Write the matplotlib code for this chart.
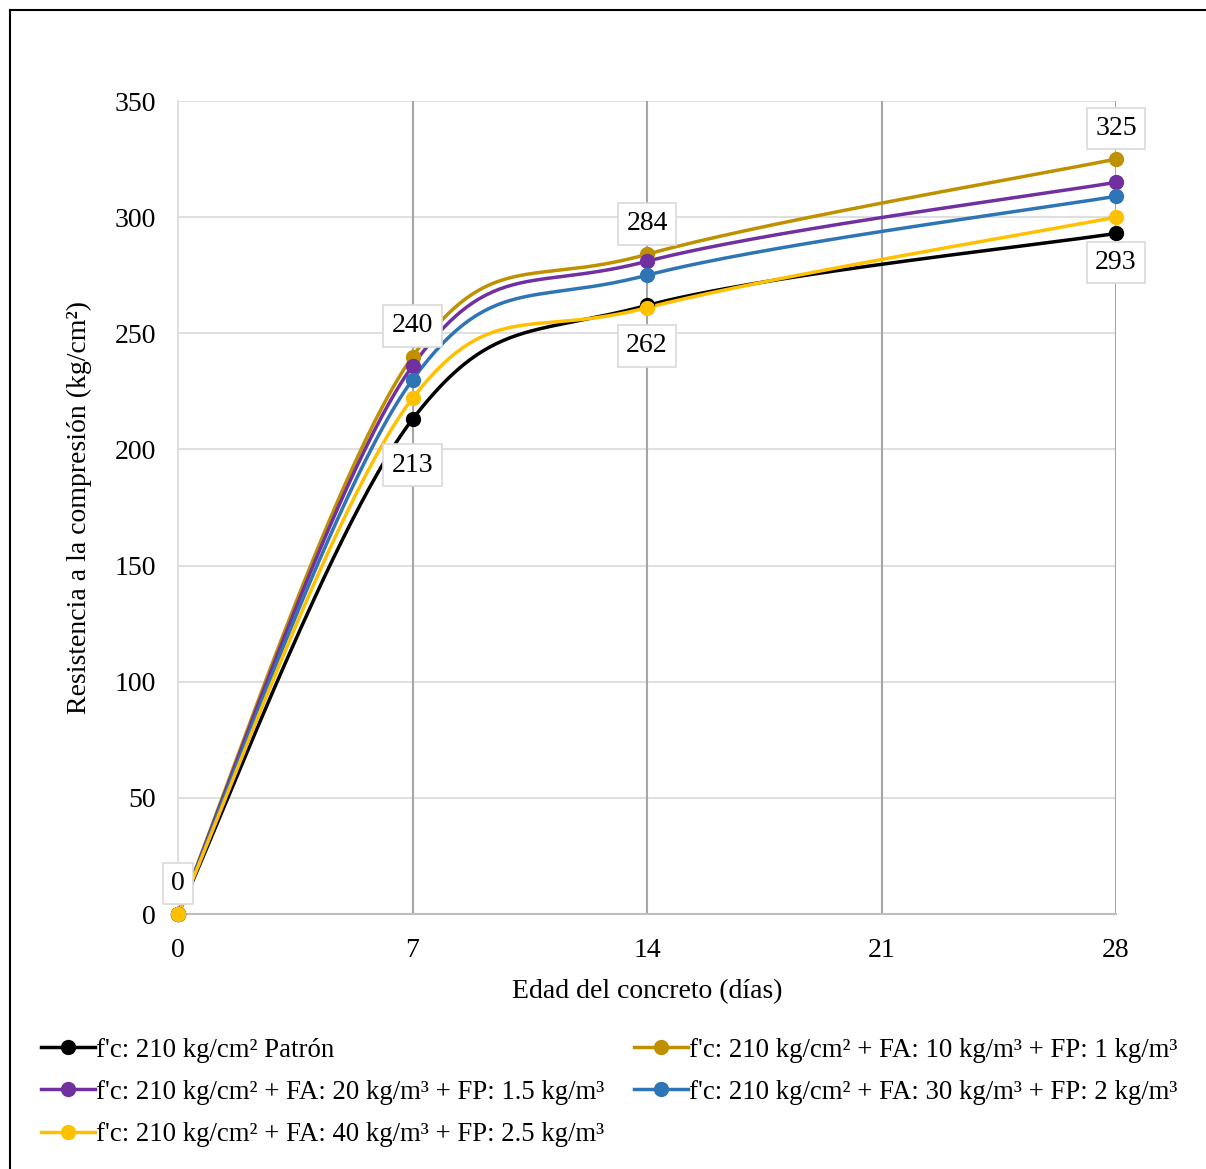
import numpy as np
import matplotlib
matplotlib.use("Agg")
from matplotlib import pyplot as plt
from matplotlib.lines import Line2D

plt.rcParams['font.family'] = ['Liberation Serif', 'DejaVu Serif']

# Data
days = [0, 7, 14, 28]
patron = [0, 213, 262, 293]
fa10 = [0, 240, 284, 325]
fa20 = [0, 236, 281, 315]
fa30 = [0, 230, 275, 309]
fa40 = [0, 222, 261, 300]

names = ["f'c: 210 kg/cm² Patrón",
         "f'c: 210 kg/cm² + FA: 10 kg/m³ + FP: 1 kg/m³",
         "f'c: 210 kg/cm² + FA: 20 kg/m³ + FP: 1.5 kg/m³",
         "f'c: 210 kg/cm² + FA: 30 kg/m³ + FP: 2 kg/m³",
         "f'c: 210 kg/cm² + FA: 40 kg/m³ + FP: 2.5 kg/m³"]
series = [patron, fa10, fa20, fa30, fa40]
colors = ['#000000', '#BF9000', '#7030A0', '#2E75B6', '#FFC000']

xticks = [0, 7, 14, 21, 28]
yticks = [0, 50, 100, 150, 200, 250, 300, 350]


# Excel-like smoothed line (bezier through the points)
def smooth(x, y, n=60):
    x = np.asarray(x, float)
    y = np.asarray(y, float)
    px = np.concatenate([[x[0]], x, [x[-1]]])
    py = np.concatenate([[y[0]], y, [y[-1]]])
    outx, outy = [], []
    t = np.linspace(0, 1, n)
    for i in range(1, len(px) - 2):
        p0 = np.array([px[i], py[i]])
        p3 = np.array([px[i + 1], py[i + 1]])
        c1 = p0 + (np.array([px[i + 1], py[i + 1]]) - np.array([px[i - 1], py[i - 1]])) / 6
        c2 = p3 - (np.array([px[i + 2], py[i + 2]]) - np.array([px[i], py[i]])) / 6
        bx = (1 - t) ** 3 * p0[0] + 3 * (1 - t) ** 2 * t * c1[0] + 3 * (1 - t) * t ** 2 * c2[0] + t ** 3 * p3[0]
        by = (1 - t) ** 3 * p0[1] + 3 * (1 - t) ** 2 * t * c1[1] + 3 * (1 - t) * t ** 2 * c2[1] + t ** 3 * p3[1]
        outx.extend(bx)
        outy.extend(by)
    return outx, outy


fig = plt.figure(figsize=(12.06, 11.69), dpi=100)
ax = fig.add_axes([0.1476, 0.2181, 0.7778, 0.6955])

for vals, col in zip(series, colors):
    sx, sy = smooth(days, vals)
    ax.plot(sx, sy, color=col, lw=2.5, zorder=3, solid_capstyle='round', clip_on=False)
    ax.plot(days, vals, 'o', color=col, ms=10, zorder=4, clip_on=False)

ax.set_xlim(0, 28)
ax.set_ylim(0, 350)
ax.set_xticks(xticks)
ax.set_yticks(yticks)
ax.tick_params(length=0, labelsize=20)
ax.tick_params(axis='y', pad=16)
ax.tick_params(axis='x', pad=17)
for v in yticks[1:]:
    ax.axhline(v, color='#d9d9d9', lw=1.2, zorder=1)
for v in xticks[1:]:
    ax.axvline(v, color='#a6a6a6', lw=1.5, zorder=1)
for s in ['top', 'right']:
    ax.spines[s].set_visible(False)
ax.spines['left'].set_color('#d9d9d9')
ax.spines['left'].set_linewidth(1.2)
ax.spines['bottom'].set_color('#bfbfbf')
ax.spines['bottom'].set_linewidth(1.5)

ax.set_xlabel('Edad del concreto (días)', fontsize=20, labelpad=12)
ax.set_ylabel('Resistencia a la compresión (kg/cm²)', fontsize=20, labelpad=16)

box = dict(boxstyle='square,pad=0.3', fc='white', ec='#d9d9d9', lw=1.2)
# labels above for FA10, below for Patrón
for x, y in zip(days, fa10):
    ax.annotate(str(y), (x, y), xytext=(0, 22), textcoords='offset points',
                ha='center', va='center', fontsize=20, bbox=box, zorder=5)
for x, y in zip(days[1:], patron[1:]):
    off = -33 if x == 7 else (-29 if x == 14 else -21)
    ax.annotate(str(y), (x, y), xytext=(0, off), textcoords='offset points',
                ha='center', va='center', fontsize=20, bbox=box, zorder=5)

handles = [Line2D([], [], color=c, lw=2.5, marker='o', ms=10) for c in colors]
order = [0, 2, 4, 1, 3]
fig.legend([handles[i] for i in order], [names[i] for i in order],
           loc='upper left', bbox_to_anchor=(0.0255, 0.1215), ncol=2,
           frameon=False, fontsize=19.3, handlelength=2.0, handletextpad=0.05,
           columnspacing=1.1, labelspacing=0.64, borderaxespad=0)

# outer frame (only top and left visible in the reference)
fig.add_artist(Line2D([10 / 1206, 1.0], [1 - 10 / 1169, 1 - 10 / 1169],
                      transform=fig.transFigure, color='black', lw=1.5))
fig.add_artist(Line2D([10 / 1206, 10 / 1206], [0, 1 - 10 / 1169],
                      transform=fig.transFigure, color='black', lw=1.5))

fig.savefig('out.png', dpi=100)
